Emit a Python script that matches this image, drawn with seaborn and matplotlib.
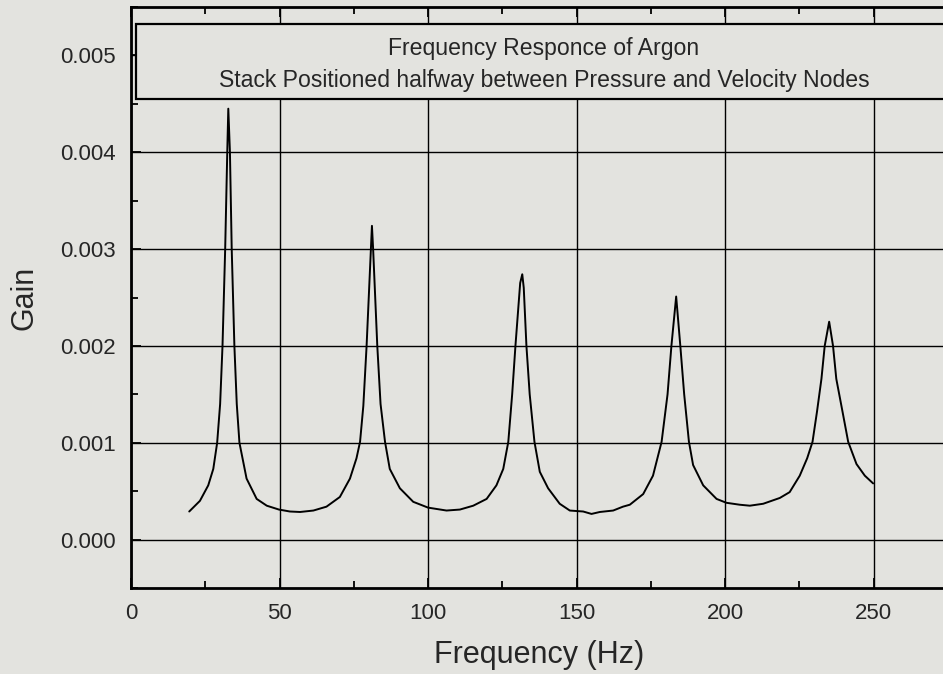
import matplotlib
matplotlib.use("Agg")
import matplotlib.pyplot as plt
from matplotlib.patches import Rectangle
from matplotlib.ticker import MultipleLocator, FormatStrFormatter
import pandas as pd
import seaborn as sns

# Gain curve
freq_hz = [
    19.6, 23.2, 26.0, 27.7, 29.0, 30.0, 30.8, 31.7, 32.4, 32.75,
    33.3, 33.9, 34.8, 35.6, 36.5, 38.9, 42.3, 45.7, 49.8, 53.5,
    56.9, 61.4, 65.8, 70.3, 73.7, 75.9, 77.1, 78.2, 79.3, 80.75,
    81.1, 81.5, 82.9, 84.0, 85.5, 87.1, 90.5, 95.0, 100.0, 106.2,
    110.7, 115.2, 119.7, 123.0, 125.3, 127.0, 128.3, 129.4, 131.0, 131.7,
    132.2, 133.1, 134.2, 135.8, 137.6, 140.4, 144.3, 147.7, 152.2, 155.0,
    157.8, 162.3, 165.6, 167.9, 172.4, 175.7, 178.6, 180.6, 181.9, 183.5,
    184.9, 186.2, 187.8, 189.2, 192.6, 197.1, 200.4, 204.9, 208.3, 212.8,
    218.4, 221.7, 225.1, 227.6, 229.4, 230.9, 232.4, 233.5, 235.0, 236.3,
    237.4, 239.5, 241.4, 244.2, 247.0, 249.8,
]
gain = [
    0.00029, 0.00040, 0.00056, 0.00073, 0.00100, 0.00140, 0.00200, 0.00300, 0.00400, 0.00445,
    0.00400, 0.00300, 0.00200, 0.00140, 0.00100, 0.00063, 0.00042, 0.00035, 0.00031, 0.00029,
    0.000285, 0.00030, 0.00034, 0.00044, 0.00063, 0.00084, 0.00101, 0.00138, 0.00200, 0.00300,
    0.00324, 0.00300, 0.00200, 0.00140, 0.00101, 0.00073, 0.00053, 0.00039, 0.00033, 0.00030,
    0.00031, 0.00035, 0.00042, 0.00056, 0.00073, 0.00101, 0.00150, 0.00200, 0.00265, 0.00274,
    0.00260, 0.00200, 0.00150, 0.00101, 0.00070, 0.00053, 0.00037, 0.00030, 0.00029, 0.000265,
    0.000285, 0.00030, 0.00034, 0.00036, 0.00047, 0.00066, 0.00101, 0.00150, 0.00200, 0.00251,
    0.00200, 0.00150, 0.00101, 0.00077, 0.00056, 0.00042, 0.00038, 0.00036, 0.00035, 0.00037,
    0.00043, 0.00049, 0.00066, 0.00084, 0.00101, 0.00132, 0.00166, 0.00200, 0.00225, 0.00200,
    0.00166, 0.00132, 0.00101, 0.00078, 0.00066, 0.00058,
]

title_lines = [
    "Frequency Responce of Argon",
    "Stack Positioned halfway between Pressure and Velocity Nodes",
]

BG = "#e3e3df"

sns.set_theme(style="ticks")
plt.rcParams["font.family"] = ["Liberation Sans", "DejaVu Sans"]

df = pd.DataFrame({"freq": freq_hz, "gain": gain})

fig = plt.figure(figsize=(9.43, 6.74), dpi=100, facecolor=BG)
ax = fig.add_axes([131 / 943, 86 / 674, 817 / 943, 581 / 674])
ax.set_facecolor(BG)

sns.lineplot(data=df, x="freq", y="gain", ax=ax, color="black", lw=1.4,
             sort=False, estimator=None, zorder=3)

ax.set_xlim(0, 275)
ax.set_ylim(-0.0005, 0.0055)
ax.xaxis.set_major_locator(MultipleLocator(50))
ax.xaxis.set_minor_locator(MultipleLocator(25))
ax.yaxis.set_major_locator(MultipleLocator(0.001))
ax.yaxis.set_minor_locator(MultipleLocator(0.0005))
ax.yaxis.set_major_formatter(FormatStrFormatter("%.3f"))

ax.grid(True, which="major", color="black", lw=1.0)
ax.tick_params(which="both", direction="in", top=True, right=False, color="black")
ax.tick_params(which="major", length=7, width=1.3, labelsize=16, pad=11)
ax.tick_params(which="minor", length=5, width=1.3)
for side in ["left", "bottom", "top", "right"]:
    ax.spines[side].set_color("black")
    ax.spines[side].set_linewidth(2.0)

ax.set_xlabel("Frequency (Hz)", fontsize=22, labelpad=11)
ax.set_ylabel("Gain", fontsize=22, labelpad=15)

# boxed title inside the plot area
box = Rectangle((0.006, 0.842), 0.994, 0.129, transform=ax.transAxes,
                facecolor=BG, edgecolor="black", lw=1.6, zorder=4)
ax.add_patch(box)
ax.text(0.5055, 0.929, title_lines[0], transform=ax.transAxes, ha="center",
        va="center", fontsize=16.6, zorder=5)
ax.text(0.5055, 0.873, title_lines[1], transform=ax.transAxes, ha="center",
        va="center", fontsize=16.6, zorder=5)

fig.savefig("out.png", dpi=100, facecolor=BG)
